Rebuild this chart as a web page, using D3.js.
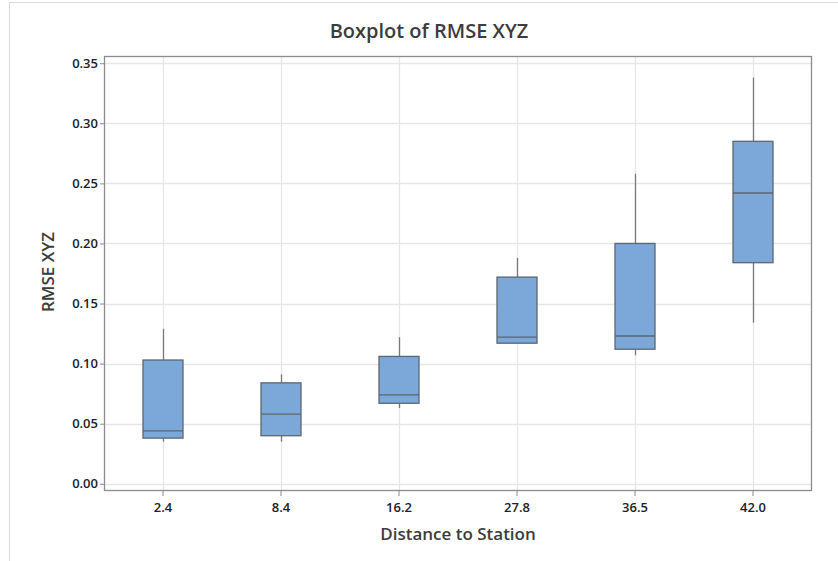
<!DOCTYPE html>
<html>
<head>
<meta charset="utf-8">
<script src="https://cdn.jsdelivr.net/npm/d3@7"></script>
<style>
  body { margin: 0; background: #fff; }
  svg { display: block; font-family: 'Open Sans', 'Noto Sans', sans-serif; }
</style>
</head>
<body>
<div id="chart"></div>
<script>
// distance groups and box statistics
var categories = ['2.4', '8.4', '16.2', '27.8', '36.5', '42.0'];
var whiskerLow = [0.035, 0.035, 0.063, 0.117, 0.107, 0.134];
var q1 = [0.038, 0.040, 0.067, 0.117, 0.112, 0.184];
var median = [0.044, 0.058, 0.074, 0.122, 0.123, 0.242];
var q3 = [0.103, 0.084, 0.106, 0.172, 0.200, 0.285];
var whiskerHigh = [0.129, 0.091, 0.122, 0.188, 0.258, 0.338];
var yTicks = [0, 0.05, 0.10, 0.15, 0.20, 0.25, 0.30, 0.35];

var width = 838, height = 561;
var plotLeft = 104, plotRight = 812, plotTop = 56, plotBottom = 491;

var boxes = categories.map(function(c, i) {
    return { cat: c, lo: whiskerLow[i], q1: q1[i], med: median[i], q3: q3[i], hi: whiskerHigh[i] };
});

var svg = d3.select('#chart').append('svg').attr('width', width).attr('height', height);

// outer panel border
svg.append('rect').attr('x', 9.5).attr('y', 2.5).attr('width', 900).attr('height', 600)
    .attr('fill', '#fff').attr('stroke', '#d9d9d9');

var x = d3.scaleBand().domain(categories).range([plotLeft, plotRight]).padding(0);
var y = d3.scaleLinear().domain([-0.006, 0.356]).range([plotBottom, plotTop]);

// gridlines
svg.append('g').selectAll('line').data(yTicks).enter().append('line')
    .attr('x1', plotLeft).attr('x2', plotRight)
    .attr('y1', function(d) { return Math.round(y(d)) + 0.5; })
    .attr('y2', function(d) { return Math.round(y(d)) + 0.5; })
    .attr('stroke', '#e6e6e6').attr('stroke-width', 1.3);
svg.append('g').selectAll('line').data(categories).enter().append('line')
    .attr('y1', plotTop).attr('y2', plotBottom)
    .attr('x1', function(d) { return Math.round(x(d) + x.bandwidth() / 2) + 0.5; })
    .attr('x2', function(d) { return Math.round(x(d) + x.bandwidth() / 2) + 0.5; })
    .attr('stroke', '#e6e6e6').attr('stroke-width', 1.3);

// axes
var yAxis = svg.append('g').attr('transform', 'translate(' + plotLeft + ',0)')
    .call(d3.axisLeft(y).tickValues(yTicks).tickFormat(d3.format('.2f')).tickSize(4).tickPadding(2));
var xAxis = svg.append('g').attr('transform', 'translate(0,' + plotBottom + ')')
    .call(d3.axisBottom(x).tickSize(5).tickPadding(7));
[yAxis, xAxis].forEach(function(a) {
    a.attr('font-family', null).attr('font-size', null);
    a.select('.domain').remove();
    a.selectAll('line').attr('stroke', '#8c8c8c');
    a.selectAll('text').attr('fill', '#222').attr('font-size', 13).attr('font-weight', 600);
});

// plot frame
svg.append('rect').attr('x', plotLeft + 0.5).attr('y', plotTop + 0.5)
    .attr('width', plotRight - plotLeft - 1).attr('height', plotBottom - plotTop - 1)
    .attr('fill', 'none').attr('stroke', '#8c8c8c').attr('stroke-width', 1.3);

// boxes
var boxW = 40;
var g = svg.append('g').selectAll('g').data(boxes).enter().append('g')
    .attr('transform', function(d) { return 'translate(' + Math.round(x(d.cat) + x.bandwidth() / 2) + ',0)'; });

g.append('line').attr('x1', 0.5).attr('x2', 0.5)
    .attr('y1', function(d) { return y(d.hi); }).attr('y2', function(d) { return y(d.q3); })
    .attr('stroke', '#7a7a7a').attr('stroke-width', 1.3);
g.append('line').attr('x1', 0.5).attr('x2', 0.5)
    .attr('y1', function(d) { return y(d.q1); }).attr('y2', function(d) { return y(d.lo); })
    .attr('stroke', '#7a7a7a').attr('stroke-width', 1.3);
g.append('rect').attr('x', -boxW / 2).attr('width', boxW)
    .attr('y', function(d) { return y(d.q3); })
    .attr('height', function(d) { return y(d.q1) - y(d.q3); })
    .attr('fill', '#7ba7d9').attr('stroke', '#5e6670').attr('stroke-width', 1.3);
g.append('line').attr('x1', -boxW / 2).attr('x2', boxW / 2)
    .attr('y1', function(d) { return y(d.med); }).attr('y2', function(d) { return y(d.med); })
    .attr('stroke', '#5e6670').attr('stroke-width', 1.3);

// titles
svg.append('text').attr('x', 429).attr('y', 38).attr('text-anchor', 'middle')
    .attr('font-size', 20).attr('font-weight', 600).attr('fill', '#3c3c3c')
    .text('Boxplot of RMSE XYZ');
svg.append('text').attr('x', 458).attr('y', 540).attr('text-anchor', 'middle')
    .attr('font-size', 17).attr('font-weight', 600).attr('fill', '#3c3c3c')
    .text('Distance to Station');
svg.append('text').attr('transform', 'translate(54,272) rotate(-90)').attr('text-anchor', 'middle')
    .attr('font-size', 17).attr('font-weight', 600).attr('fill', '#3c3c3c')
    .text('RMSE XYZ');
</script>
</body>
</html>
